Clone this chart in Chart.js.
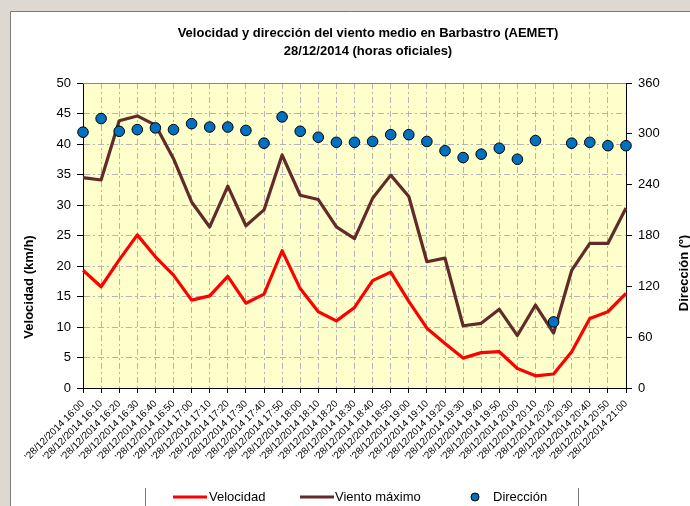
<!DOCTYPE html>
<html>
<head>
<meta charset="utf-8">
<script src="https://cdn.jsdelivr.net/npm/chart.js@4"></script>
<style>
html,body{margin:0;padding:0;background:#ddd9d2;}
#c{display:block;}
</style>
</head>
<body>
<canvas id="c" width="690" height="506"></canvas>
<script>
const titleLines = ['Velocidad y dirección del viento medio en Barbastro (AEMET)', '28/12/2014 (horas oficiales)'];
const leftAxisTitle = 'Velocidad (km/h)';
const rightAxisTitle = 'Dirección (º)';
const times = ['16:00','16:10','16:20','16:30','16:40','16:50','17:00','17:10','17:20','17:30','17:40','17:50',
  '18:00','18:10','18:20','18:30','18:40','18:50','19:00','19:10','19:20','19:30','19:40','19:50',
  '20:00','20:10','20:20','20:30','20:40','20:50','21:00'];
const categories = times.map(t => '\'28/12/2014 ' + t);
const velocidad = [19.3,16.6,21.0,25.1,21.5,18.5,14.4,15.1,18.3,13.9,15.4,22.5,16.3,12.5,11.0,13.2,17.6,19.0,14.2,9.8,7.3,4.9,5.8,5.95,3.2,2.0,2.3,5.95,11.4,12.5,15.5];
const vientoMaximo = [34.5,34.1,43.8,44.6,43.1,37.6,30.5,26.4,33.1,26.6,29.2,38.2,31.6,30.9,26.4,24.5,31.1,34.9,31.4,20.7,21.3,10.2,10.6,12.9,8.6,13.6,9.0,19.3,23.7,23.7,29.5];
const direccion = [302,318,303,305,307,305,312,308,308,304,289,320,303,296,290,290,291,299,299,291,280,272,276,283,270,292,78,289,290,286,286];
const seriesNames = ['Velocidad', 'Viento máximo', 'Dirección'];

const FONT = '"Liberation Sans", Arial, sans-serif';
const GRID = '#b4b4b4';

const decor = {
  id: 'decor',
  beforeDraw(chart) {
    const ctx = chart.ctx;
    ctx.save();
    ctx.fillStyle = '#ddd9d2';
    ctx.fillRect(0, 0, chart.width, chart.height);
    ctx.fillStyle = '#ffffff';
    ctx.fillRect(10, 11, chart.width - 10, chart.height - 11);
    ctx.strokeStyle = '#7a7a7a';
    ctx.lineWidth = 1;
    ctx.beginPath();
    ctx.moveTo(10.5, chart.height); ctx.lineTo(10.5, 11.5); ctx.lineTo(chart.width, 11.5);
    ctx.stroke();
    const a = chart.chartArea;
    ctx.fillStyle = '#ffffcc';
    ctx.fillRect(a.left, a.top, a.right - a.left, a.bottom - a.top);
    ctx.restore();
  },
  beforeDatasetsDraw(chart) {
    const ctx = chart.ctx, a = chart.chartArea;
    ctx.save();
    ctx.strokeStyle = '#888888';
    ctx.lineWidth = 1;
    ctx.beginPath();
    ctx.moveTo(a.left, a.top + 0.5); ctx.lineTo(a.right, a.top + 0.5);
    ctx.stroke();
    ctx.restore();
  },
  afterDraw(chart) {
    const ctx = chart.ctx;
    ctx.save();
    ctx.fillStyle = '#000';
    ctx.textAlign = 'center';
    ctx.textBaseline = 'middle';
    ctx.font = 'bold 13px ' + FONT;
    ctx.fillText(titleLines[0], 368, 33);
    ctx.fillText(titleLines[1], 368, 51);
    ctx.save();
    ctx.translate(29, 287);
    ctx.rotate(-Math.PI / 2);
    ctx.fillText(leftAxisTitle, 0, 0);
    ctx.restore();
    ctx.save();
    ctx.translate(684, 273);
    ctx.rotate(-Math.PI / 2);
    ctx.fillText(rightAxisTitle, 0, 0);
    ctx.restore();
    const ly = 497;
    ctx.strokeStyle = '#7a7a7a';
    ctx.lineWidth = 1;
    ctx.beginPath();
    ctx.moveTo(145.5, 488); ctx.lineTo(145.5, 506);
    ctx.moveTo(578.5, 488); ctx.lineTo(578.5, 506);
    ctx.stroke();
    ctx.font = '13px ' + FONT;
    ctx.textAlign = 'left';
    ctx.lineWidth = 3;
    ctx.strokeStyle = '#ff0000';
    ctx.beginPath(); ctx.moveTo(173, ly); ctx.lineTo(207, ly); ctx.stroke();
    ctx.fillText(seriesNames[0], 209, ly);
    ctx.strokeStyle = '#632a2a';
    ctx.beginPath(); ctx.moveTo(300, ly); ctx.lineTo(334, ly); ctx.stroke();
    ctx.fillText(seriesNames[1], 335, ly);
    ctx.lineWidth = 1;
    ctx.fillStyle = '#0070c0';
    ctx.strokeStyle = '#000';
    ctx.beginPath(); ctx.arc(475, ly, 4, 0, Math.PI * 2); ctx.fill(); ctx.stroke();
    ctx.fillStyle = '#000';
    ctx.fillText(seriesNames[2], 493, ly);
    ctx.restore();
  }
};

const dashFn = [6, 3, 2, 3];

new Chart(document.getElementById('c'), {
  type: 'line',
  data: {
    labels: categories,
    datasets: [
      {
        label: seriesNames[2], data: direccion, yAxisID: 'y1', showLine: false,
        pointRadius: 5.3, pointHoverRadius: 5.3, pointBackgroundColor: '#0070c0',
        pointBorderColor: '#000', pointBorderWidth: 1, backgroundColor: '#0070c0', borderColor: '#000', order: 0
      },
      {
        label: seriesNames[0], data: velocidad, yAxisID: 'y', borderColor: '#ff0000', borderWidth: 3.2,
        pointRadius: 0, tension: 0, order: 1, borderJoinStyle: 'round'
      },
      {
        label: seriesNames[1], data: vientoMaximo, yAxisID: 'y', borderColor: '#632a2a', borderWidth: 3.2,
        pointRadius: 0, tension: 0, order: 2, borderJoinStyle: 'round'
      }
    ]
  },
  options: {
    responsive: false,
    animation: false,
    events: [],
    layout: { padding: { top: 83, left: 0, right: 0, bottom: 0 } },
    plugins: { legend: { display: false }, title: { display: false }, tooltip: { enabled: false } },
    scales: {
      x: {
        offset: false,
        afterFit(s) { s.height = 118; },
        grid: { color: GRID, tickColor: '#000', tickLength: 5, offset: false, tickBorderDash: [] },
        border: { color: '#000', width: 1, dash: dashFn },
        ticks: { autoSkip: false, minRotation: 45, maxRotation: 45, color: '#000', padding: 5, font: { family: FONT, size: 10 } }
      },
      y: {
        position: 'left', min: 0, max: 50,
        afterFit(s) { s.width = 83; },
        grid: { color: GRID, tickColor: '#000', tickLength: 6, tickBorderDash: [] },
        border: { color: '#000', width: 1, dash: dashFn },
        ticks: { stepSize: 5, color: '#000', padding: 6, font: { family: FONT, size: 13 } }
      },
      y1: {
        position: 'right', min: 0, max: 360,
        afterFit(s) { s.width = 64; },
        grid: { drawOnChartArea: false, tickColor: '#000', tickLength: 6, tickBorderDash: [] },
        border: { color: '#000', width: 1 },
        ticks: { stepSize: 60, color: '#000', padding: 6, font: { family: FONT, size: 13 } }
      }
    }
  },
  plugins: [decor]
});
</script>
</body>
</html>
